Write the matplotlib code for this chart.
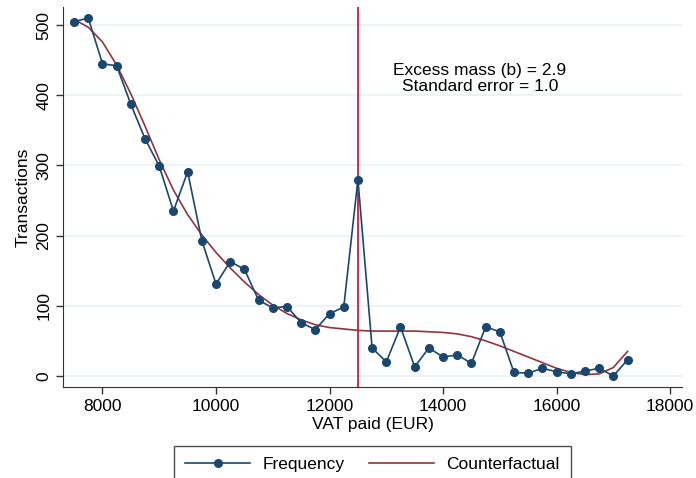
import numpy as np
import matplotlib
matplotlib.use('Agg')
import matplotlib.pyplot as plt

plt.rcParams['font.family'] = ['Liberation Sans', 'DejaVu Sans']

# bins of VAT paid (EUR), 250 wide
vat_bins = [7500, 7750, 8000, 8250, 8500, 8750, 9000, 9250, 9500, 9750,
            10000, 10250, 10500, 10750, 11000, 11250, 11500, 11750, 12000, 12250,
            12500, 12750, 13000, 13250, 13500, 13750, 14000, 14250, 14500, 14750,
            15000, 15250, 15500, 15750, 16000, 16250, 16500, 16750, 17000, 17250]

frequency = [505, 510, 445, 442, 387, 338, 299, 235, 291, 193,
             131, 163, 152, 108, 97, 99, 76, 66, 89, 98,
             280, 40, 20, 70, 13, 40, 27, 30, 18, 70,
             63, 5, 4, 11, 6, 3, 7, 11, 0, 23]

counterfactual = [508, 497, 476, 443, 402, 356, 308, 265, 230, 201,
                  176, 154, 134, 116, 101, 89, 80, 73, 69, 67,
                  65, 64, 64, 64, 64, 63, 62, 60, 56, 50,
                  43, 35, 27, 19, 11, 5, 2, 3, 12, 35]

threshold = 12500
excess_mass = 2.9
std_error = 1.0

navy = '#1a476f'
maroon = '#90353b'

fig = plt.figure(figsize=(6.96, 4.78), dpi=100)
ax = fig.add_axes([0.0905, 0.1904, 0.8895, 0.7946])

ax.axvline(threshold, color='#d6173f', lw=1.3, zorder=1)
ax.plot(vat_bins, frequency, color=navy, lw=1.2, marker='o', ms=5.5,
        label='Frequency', zorder=3)
ax.plot(vat_bins, counterfactual, color=maroon, lw=1.2,
        label='Counterfactual', zorder=2)

ax.text(14650, 424, f'Excess mass (b) = {excess_mass:.1f}\nStandard error = {std_error:.1f}',
        ha='center', va='center', fontsize=12.5, linespacing=1.05)

ax.set_xlim(7304, 18211)
ax.set_ylim(-15.7, 525.6)
ax.set_xticks(np.arange(8000, 18001, 2000))
ax.set_yticks(np.arange(0, 501, 100))
ax.set_yticklabels([str(v) for v in range(0, 501, 100)], rotation=90, va='center')
ax.tick_params(labelsize=12.5, length=5, width=1, color='#333333')
ax.yaxis.grid(True, color='#eaf2f3', lw=1.2)
ax.set_axisbelow(True)
for s in ['top', 'right']:
    ax.spines[s].set_visible(False)
for s in ['left', 'bottom']:
    ax.spines[s].set_color('#333333')

ax.set_xlabel('VAT paid (EUR)', fontsize=12.5, labelpad=2)
ax.set_ylabel('Transactions', fontsize=12.5, labelpad=4)

leg = fig.legend(loc='upper center', bbox_to_anchor=(0.535, 0.067), ncol=2,
                 fontsize=12.5, frameon=True, fancybox=False, handlelength=3.75,
                 handletextpad=0.7, columnspacing=1.4, borderpad=0.65,
                 borderaxespad=0)
leg.get_frame().set_edgecolor('#222222')
leg.get_frame().set_linewidth(1.0)

fig.savefig('out.png', dpi=100)
